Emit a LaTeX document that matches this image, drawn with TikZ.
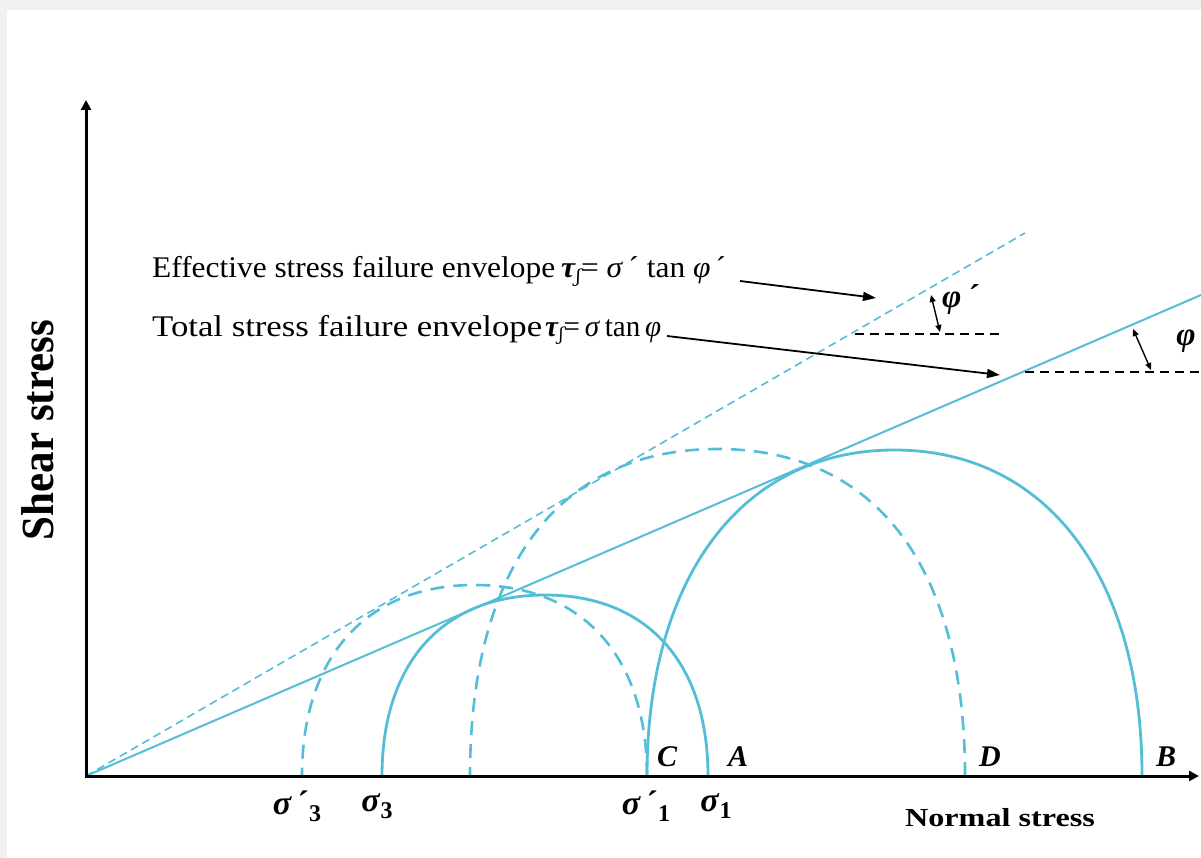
\documentclass[tikz,border=0pt]{standalone}
\usepackage{fontspec}
\setmainfont{Liberation Serif}
\newfontfamily\ipafont{DejaVu Serif}
\usetikzlibrary{arrows.meta}
\definecolor{envc}{RGB}{84,190,214}
\definecolor{framegray}{RGB}{240,240,240}
\newsavebox\myfitbox
\newlength\myfitlen
\newcommand\myfit[2]{\sbox\myfitbox{#2}\setlength\myfitlen{\wd\myfitbox}\pgfmathsetmacro\myfitfac{#1/\myfitlen}\scalebox{\myfitfac}[1]{\usebox\myfitbox}}
% half super-ellipse: #1 style, #2 cx, #3 a, #4 b, #5 k
\newcommand\halfbump[5]{\draw[#1] ({#2+#3},776) .. controls ({#2+#3},{776-#5*#4}) and ({#2+#5*#3},{776-#4}) .. ({#2},{776-#4}) .. controls ({#2-#5*#3},{776-#4}) and ({#2-#3},{776-#5*#4}) .. ({#2-#3},776);}
\newcommand\sublow[1]{\raisebox{-7pt}{\fontsize{24}{24}\selectfont\bfseries #1}}
\newcommand\tauf{\textbf{\textit{τ}}\raisebox{-5pt}{\fontsize{18}{18}\selectfont\ipafont\itshape ʃ}}
\begin{document}
\begin{tikzpicture}[x=1pt,y=-1pt,
  axisline/.style={line width=3pt, black},
  envsolid/.style={draw=envc, line width=2pt},
  envdash/.style={draw=envc, line width=1.6pt, dash pattern=on 8pt off 5pt},
  circsolid/.style={draw=envc, line width=2.8pt},
  circdash/.style={draw=envc, line width=2.6pt, dash pattern=on 14pt off 9pt},
  pointer/.style={black, line width=1.8pt, -{Triangle[length=13pt,width=9pt]}},
  hdash/.style={black, line width=2pt, dash pattern=on 9pt off 6pt},
  anglemark/.style={black, line width=1.4pt, {Triangle[length=7pt,width=6pt]}-{Triangle[length=7pt,width=6pt]}},
  lbl/.style={font=\fontsize{30}{32}\selectfont, inner sep=0pt},
  ptlabel/.style={font=\fontsize{30}{32}\selectfont\bfseries\itshape, inner sep=0pt},
  philabel/.style={font=\fontsize{33}{35}\selectfont\bfseries\itshape, inner sep=0pt},
  siglabel/.style={font=\fontsize{34}{36}\selectfont\bfseries, inner sep=0pt}]
\useasboundingbox (0,0) rectangle (1201,858);
\fill[framegray] (0,0) rectangle (1201,858);
\fill[white] (7,10) rectangle (1201,858);

% coordinates
\coordinate (O) at (86,776);
\coordinate (ytop) at (86,100);
\coordinate (xend) at (1199,776);
\coordinate (effend) at (1025,233);
\coordinate (totend) at (1201,295);

% envelopes
\draw[envdash] (O) -- (effend);
\draw[envsolid] (O) -- (totend);

% Mohr circles
\halfbump{circdash}{474.5}{172.5}{191}{0.626}
\halfbump{circsolid}{545}{163}{181}{0.626}
\halfbump{circdash}{717.5}{247.5}{327}{0.64}
\halfbump{circsolid}{894.5}{247.5}{326}{0.613}

% axes
\draw[axisline, {Triangle[length=10pt,width=10pt]}-{Triangle[length=10pt,width=10pt]}] (ytop) -- (O) -- (xend);

% envelope labels
\node[lbl, anchor=base west] (efftxt) at (152,278) {\myfit{403pt}{Effective stress failure envelope}};
\node[lbl, anchor=base west] (effeq) at (561,278) {\myfit{165pt}{\tauf= \textit{σ}\,´ tan \textit{φ}\,´}};
\node[lbl, anchor=base west] (tottxt) at (152,336) {\myfit{390pt}{Total stress failure envelope}};
\node[lbl, anchor=base west] (toteq) at (545,336) {\myfit{116pt}{\tauf=\,\textit{σ}\,tan\,\textit{φ}}};

\coordinate (effstart) at (740,281);
\coordinate (efftip) at (876,298);
\coordinate (totstart) at (667,336);
\coordinate (tottip) at (1000,375);
\draw[pointer] (effstart) -- (efftip);
\draw[pointer] (totstart) -- (tottip);

% angle marks
\coordinate (h1a) at (855,334);
\coordinate (h1b) at (1000,334);
\coordinate (h2a) at (1025,372);
\coordinate (h2b) at (1201,372);
\draw[hdash] (h1a) -- (h1b);
\draw[hdash] (h2a) -- (h2b);
\coordinate (a1a) at (931,295);
\coordinate (a1b) at (940,332);
\coordinate (a2a) at (1133,329);
\coordinate (a2b) at (1151,370);
\draw[anglemark] (a1a) -- (a1b);
\draw[anglemark] (a2a) -- (a2b);
\node[philabel] (phiprime) at (960,300) {φ\,´};
\node[philabel] (phi) at (1186,341) {φ};

% point labels
\node[ptlabel] (C) at (667,757) {C};
\node[ptlabel] (A) at (738,757) {A};
\node[ptlabel] (D) at (990,757) {D};
\node[ptlabel] (B) at (1166,757) {B};

% stress labels
\node[siglabel] (s3p) at (297,806) {\textit{σ}\,´\sublow{3}};
\node[siglabel] (s3) at (377,806) {\textit{σ}\sublow{3}};
\node[siglabel] (s1p) at (646,806) {\textit{σ}\,´\sublow{1}};
\node[siglabel] (s1) at (716,806) {\textit{σ}\sublow{1}};

\node[inner sep=0pt, font=\fontsize{26}{28}\selectfont\bfseries] (xlab) at (1000,818) {\myfit{190pt}{Normal stress}};
\node[inner sep=0pt, rotate=90, font=\fontsize{46}{50}\selectfont\bfseries] (ylab) at (38,430) {\myfit{220pt}{Shear stress}};
\end{tikzpicture}
\end{document}
